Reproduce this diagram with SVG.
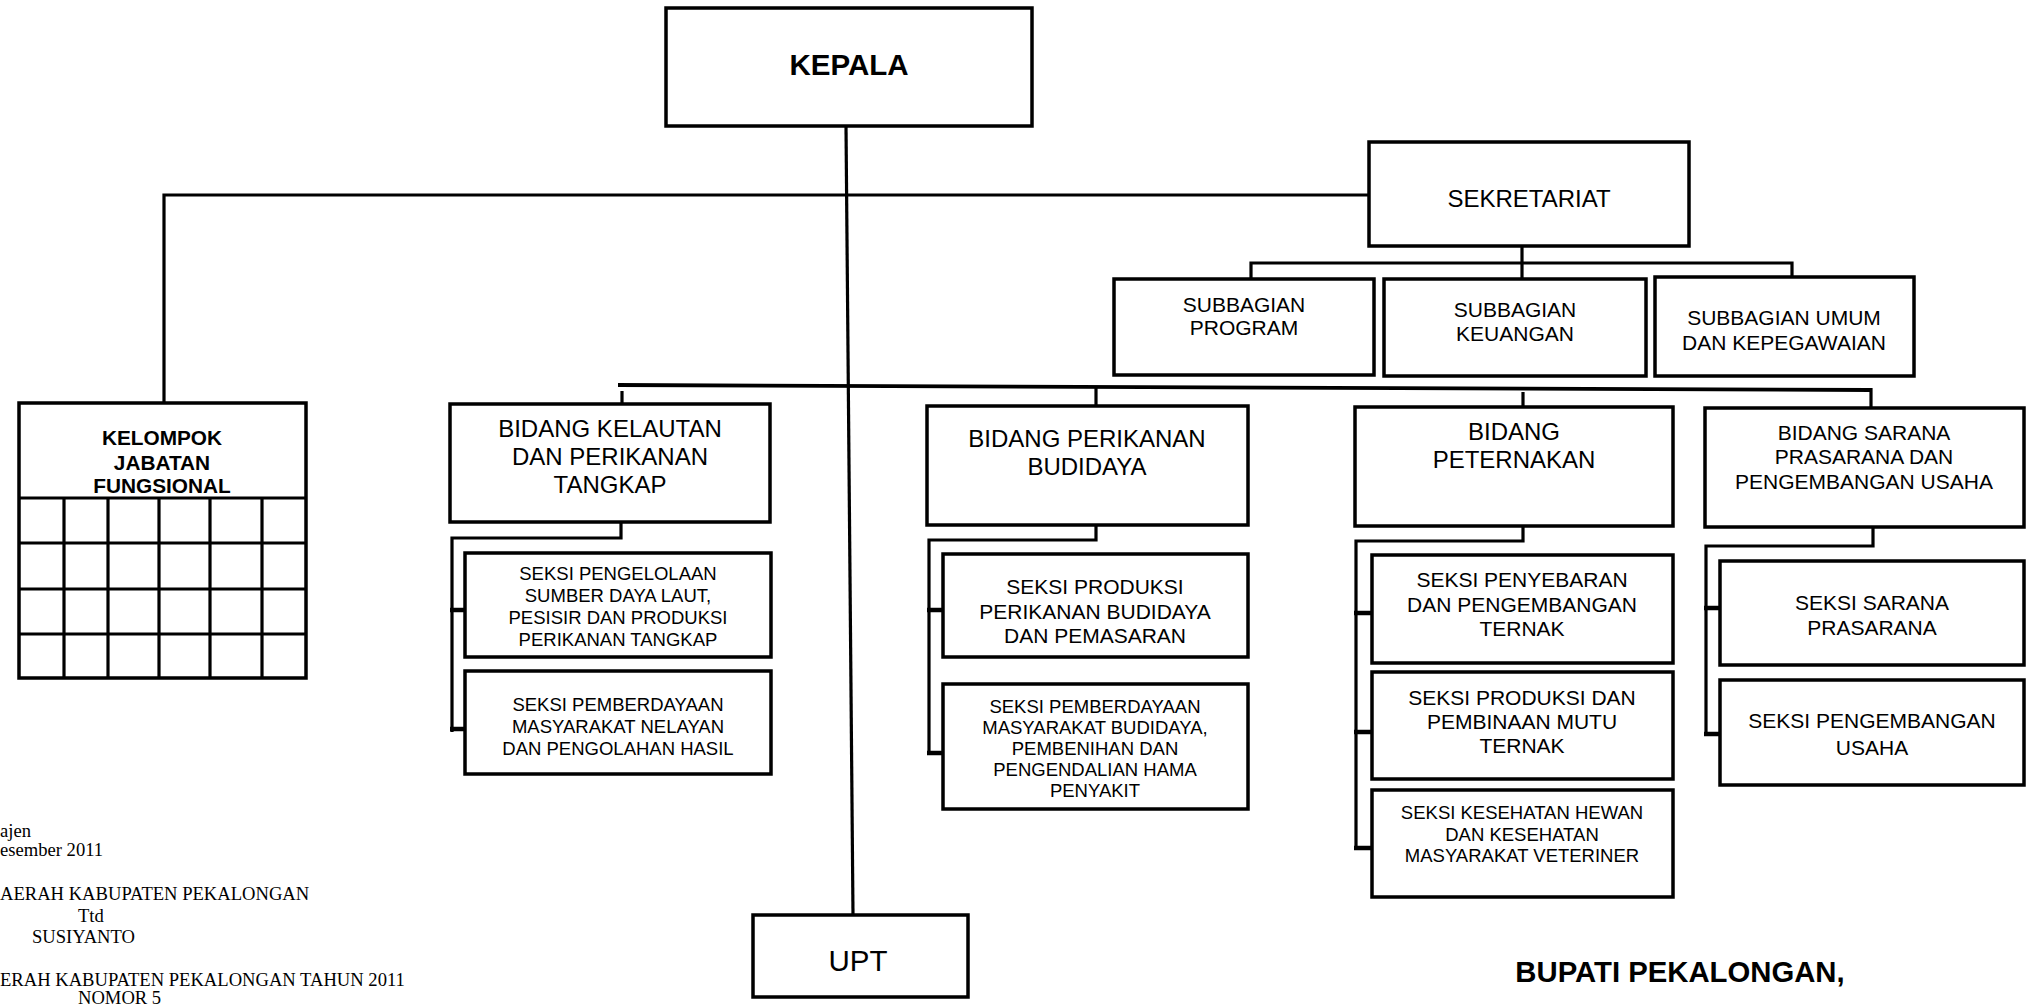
<svg xmlns="http://www.w3.org/2000/svg" width="2030" height="1005" viewBox="0 0 2030 1005">
<style>
.box{fill:#fff;stroke:#000;stroke-width:3.5}
.ln{fill:none;stroke:#000;stroke-width:3.2}
.stub{fill:none;stroke:#000;stroke-width:4.5}
text{font-family:"Liberation Sans",Arial,sans-serif;fill:#000;text-anchor:middle}
.b{font-weight:bold}
.f24{font-size:24px}
.f21{font-size:21px}
.f18{font-size:18.5px}
.tnr{font-family:"Liberation Serif","Times New Roman",serif;font-size:18.6px;text-anchor:start}
</style>
<rect width="2030" height="1005" fill="#fff"/>
<g id="connectors">
<line class="ln" x1="846" y1="126" x2="853" y2="915"/>
<polyline class="ln" points="164,403 164,195 1369,195"/>
<line class="ln" x1="1522" y1="246" x2="1522" y2="279"/>
<polyline class="ln" points="1251,279 1251,263 1792,263 1792,277"/>
<line x1="618" y1="385" x2="1871" y2="390" stroke="#000" stroke-width="3.8"/>
<line class="ln" x1="622" y1="391" x2="622" y2="404"/>
<line class="ln" x1="1096" y1="388" x2="1096" y2="406"/>
<line class="ln" x1="1523" y1="392" x2="1523" y2="407"/>
<line class="ln" x1="1871" y1="388" x2="1871" y2="410"/>
<polyline class="ln" points="621,522 621,538 452,538 452,732"/>
<line class="stub" x1="450" y1="610" x2="465" y2="610"/>
<line class="stub" x1="450" y1="729" x2="465" y2="729"/>
<polyline class="ln" points="1096,525 1096,540 929,540 929,755"/>
<line class="stub" x1="927" y1="610" x2="943" y2="610"/>
<line class="stub" x1="927" y1="753" x2="943" y2="753"/>
<polyline class="ln" points="1523,526 1523,541 1356,541 1356,849"/>
<line class="stub" x1="1354" y1="613" x2="1372" y2="613"/>
<line class="stub" x1="1354" y1="732" x2="1372" y2="732"/>
<line class="stub" x1="1354" y1="848" x2="1372" y2="848"/>
<polyline class="ln" points="1873,527 1873,546 1706,546 1706,735"/>
<line class="stub" x1="1704" y1="608" x2="1720" y2="608"/>
<line class="stub" x1="1704" y1="734" x2="1720" y2="734"/>
</g>
<g id="kepala">
<rect class="box" x="666" y="8" width="366" height="118"/>
<text class="b" x="849" y="75" font-size="29.5">KEPALA</text>
</g>
<g id="sekretariat">
<rect class="box" x="1369" y="142" width="320" height="104"/>
<text class="f24" x="1529" y="207">SEKRETARIAT</text>
</g>
<g id="subbagian-program">
<rect class="box" x="1114" y="279" width="260" height="96"/>
<text class="f21" x="1244" y="312">SUBBAGIAN</text>
<text class="f21" x="1244" y="335">PROGRAM</text>
</g>
<g id="subbagian-keuangan">
<rect class="box" x="1384" y="279" width="262" height="97"/>
<text class="f21" x="1515" y="317">SUBBAGIAN</text>
<text class="f21" x="1515" y="341">KEUANGAN</text>
</g>
<g id="subbagian-umum">
<rect class="box" x="1655" y="277" width="259" height="99"/>
<text class="f21" x="1784" y="325">SUBBAGIAN UMUM</text>
<text class="f21" x="1784" y="350">DAN KEPEGAWAIAN</text>
</g>
<g id="kelompok-jabatan-fungsional">
<rect class="box" x="19" y="403" width="287" height="275"/>
<g class="ln">
<line x1="19" y1="498" x2="306" y2="498"/>
<line x1="19" y1="543" x2="306" y2="543"/>
<line x1="19" y1="589" x2="306" y2="589"/>
<line x1="19" y1="634" x2="306" y2="634"/>
<line x1="64" y1="498" x2="64" y2="678"/>
<line x1="108" y1="498" x2="108" y2="678"/>
<line x1="159" y1="498" x2="159" y2="678"/>
<line x1="210" y1="498" x2="210" y2="678"/>
<line x1="262" y1="498" x2="262" y2="678"/>
</g>
<text class="b" x="162" y="445" font-size="20.8">KELOMPOK</text>
<text class="b" x="162" y="470" font-size="20.8">JABATAN</text>
<text class="b" x="162" y="493" font-size="20.8">FUNGSIONAL</text>
</g>
<g id="bidang-kelautan">
<rect class="box" x="450" y="404" width="320" height="118"/>
<text class="f24" x="610" y="437">BIDANG KELAUTAN</text>
<text class="f24" x="610" y="465">DAN PERIKANAN</text>
<text class="f24" x="610" y="493">TANGKAP</text>
</g>
<g id="seksi-pengelolaan">
<rect class="box" x="465" y="553" width="306" height="104"/>
<text class="f18" x="618" y="580">SEKSI PENGELOLAAN</text>
<text class="f18" x="618" y="602">SUMBER DAYA LAUT,</text>
<text class="f18" x="618" y="624">PESISIR DAN PRODUKSI</text>
<text class="f18" x="618" y="646">PERIKANAN TANGKAP</text>
</g>
<g id="seksi-pemberdayaan-nelayan">
<rect class="box" x="465" y="671" width="306" height="103"/>
<text class="f18" x="618" y="711">SEKSI PEMBERDAYAAN</text>
<text class="f18" x="618" y="733">MASYARAKAT NELAYAN</text>
<text class="f18" x="618" y="755">DAN PENGOLAHAN HASIL</text>
</g>
<g id="bidang-budidaya">
<rect class="box" x="927" y="406" width="321" height="119"/>
<text class="f24" x="1087" y="447">BIDANG PERIKANAN</text>
<text class="f24" x="1087" y="475">BUDIDAYA</text>
</g>
<g id="seksi-produksi-budidaya">
<rect class="box" x="943" y="554" width="305" height="103"/>
<text class="f21" x="1095" y="594">SEKSI PRODUKSI</text>
<text class="f21" x="1095" y="619">PERIKANAN BUDIDAYA</text>
<text class="f21" x="1095" y="643">DAN PEMASARAN</text>
</g>
<g id="seksi-pemberdayaan-budidaya">
<rect class="box" x="943" y="684" width="305" height="125"/>
<text class="f18" x="1095" y="713">SEKSI PEMBERDAYAAN</text>
<text class="f18" x="1095" y="734">MASYARAKAT BUDIDAYA,</text>
<text class="f18" x="1095" y="755">PEMBENIHAN DAN</text>
<text class="f18" x="1095" y="776">PENGENDALIAN HAMA</text>
<text class="f18" x="1095" y="797">PENYAKIT</text>
</g>
<g id="bidang-peternakan">
<rect class="box" x="1355" y="407" width="318" height="119"/>
<text class="f24" x="1514" y="440">BIDANG</text>
<text class="f24" x="1514" y="468">PETERNAKAN</text>
</g>
<g id="seksi-penyebaran">
<rect class="box" x="1372" y="555" width="301" height="108"/>
<text class="f21" x="1522" y="587">SEKSI PENYEBARAN</text>
<text class="f21" x="1522" y="612">DAN PENGEMBANGAN</text>
<text class="f21" x="1522" y="636">TERNAK</text>
</g>
<g id="seksi-produksi-ternak">
<rect class="box" x="1372" y="672" width="301" height="107"/>
<text class="f21" x="1522" y="705">SEKSI PRODUKSI DAN</text>
<text class="f21" x="1522" y="729">PEMBINAAN MUTU</text>
<text class="f21" x="1522" y="753">TERNAK</text>
</g>
<g id="seksi-kesehatan">
<rect class="box" x="1372" y="790" width="301" height="107"/>
<text class="f18" x="1522" y="819">SEKSI KESEHATAN HEWAN</text>
<text class="f18" x="1522" y="841">DAN KESEHATAN</text>
<text class="f18" x="1522" y="862">MASYARAKAT VETERINER</text>
</g>
<g id="bidang-sarana">
<rect class="box" x="1705" y="408" width="319" height="119"/>
<text class="f21" x="1864" y="440">BIDANG SARANA</text>
<text class="f21" x="1864" y="464">PRASARANA DAN</text>
<text class="f21" x="1864" y="489">PENGEMBANGAN USAHA</text>
</g>
<g id="seksi-sarana">
<rect class="box" x="1720" y="561" width="304" height="104"/>
<text class="f21" x="1872" y="610">SEKSI SARANA</text>
<text class="f21" x="1872" y="635">PRASARANA</text>
</g>
<g id="seksi-pengembangan">
<rect class="box" x="1720" y="680" width="304" height="105"/>
<text class="f21" x="1872" y="728">SEKSI PENGEMBANGAN</text>
<text class="f21" x="1872" y="755">USAHA</text>
</g>
<g id="upt">
<rect class="box" x="753" y="915" width="215" height="82"/>
<text x="858" y="971" font-size="29.5">UPT</text>
</g>
<g id="footer">
<text class="tnr" x="0" y="837">ajen</text>
<text class="tnr" x="0" y="856">esember 2011</text>
<text class="tnr" x="0" y="900">AERAH KABUPATEN PEKALONGAN</text>
<text class="tnr" x="78" y="922">Ttd</text>
<text class="tnr" x="32" y="943">SUSIYANTO</text>
<text class="tnr" x="0" y="986" font-size="19">ERAH KABUPATEN PEKALONGAN TAHUN 2011</text>
<text class="tnr" x="78" y="1004">NOMOR 5</text>
<text class="b" x="1680" y="982" font-size="29.3">BUPATI PEKALONGAN,</text>
</g>
</svg>
